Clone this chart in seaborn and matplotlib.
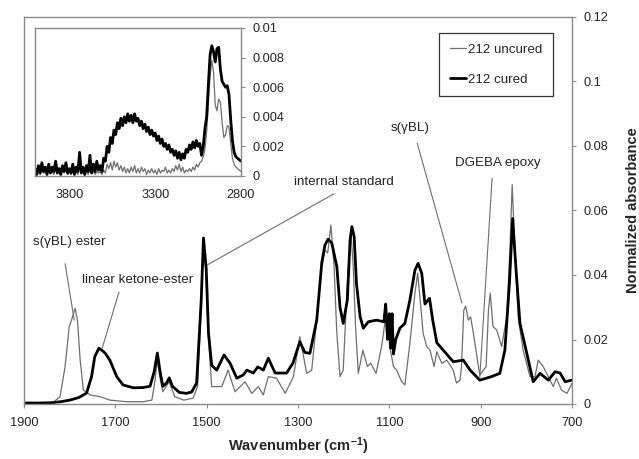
import numpy as np
import pandas as pd
import matplotlib
matplotlib.use("Agg")
import matplotlib.pyplot as plt
import seaborn as sns

# ---------------- data ----------------
cured_wn = [1900, 1870, 1840, 1820, 1800, 1780, 1763, 1752, 1745, 1736, 1728, 1722, 1712,
            1697, 1683, 1660, 1640, 1624, 1615, 1608, 1602, 1596, 1588, 1582, 1575, 1560,
            1545, 1533, 1522, 1512, 1507, 1501, 1496, 1489, 1478, 1462, 1449, 1434, 1420,
            1412, 1398, 1388, 1376, 1365, 1350, 1325, 1311, 1296, 1285, 1274, 1259, 1248,
            1241, 1234, 1226, 1215, 1208, 1201, 1192, 1186, 1182, 1177, 1172, 1164, 1157,
            1146, 1128, 1112, 1108, 1104, 1100, 1097, 1094, 1091, 1086, 1077, 1066, 1055,
            1044, 1037, 1029, 1022, 1012, 1005, 996, 982, 960, 938, 923, 902, 876, 858,
            847, 837, 830, 823, 814, 799, 785, 770, 752, 737, 726, 715, 700]
cured_abs = [0.0003, 0.0003, 0.0004, 0.0007, 0.0012, 0.0020, 0.0034, 0.0085, 0.0147, 0.0173,
             0.0165, 0.0157, 0.0136, 0.0085, 0.0059, 0.0050, 0.0051, 0.0055, 0.0100, 0.0158,
             0.0100, 0.0055, 0.0065, 0.0081, 0.0055, 0.0036, 0.0033, 0.0037, 0.0065, 0.0320,
             0.0515, 0.0420, 0.0220, 0.0120, 0.0105, 0.0152, 0.0127, 0.0080, 0.0090, 0.0105,
             0.0096, 0.0115, 0.0105, 0.0142, 0.0096, 0.0096, 0.0127, 0.0193, 0.0160, 0.0157,
             0.0260, 0.0437, 0.0493, 0.0511, 0.0499, 0.0426, 0.0300, 0.0250, 0.0322, 0.0508,
             0.0550, 0.0519, 0.0374, 0.0271, 0.0235, 0.0255, 0.0260, 0.0255, 0.0310, 0.0200,
             0.0280, 0.0173, 0.0280, 0.0155, 0.0200, 0.0235, 0.0250, 0.0322, 0.0415, 0.0436,
             0.0405, 0.0310, 0.0328, 0.0260, 0.0190, 0.0167, 0.0131, 0.0136, 0.0105, 0.0074,
             0.0085, 0.0095, 0.0167, 0.0374, 0.0575, 0.0426, 0.0250, 0.0157, 0.0069, 0.0095,
             0.0074, 0.0100, 0.0096, 0.0069, 0.0074]

uncured_wn = [1900, 1860, 1836, 1821, 1810, 1801, 1796, 1788, 1783, 1777, 1770, 1755, 1734,
              1712, 1675, 1639, 1620, 1613, 1608, 1602, 1596, 1582, 1570, 1550, 1530, 1520,
              1512, 1507, 1501, 1496, 1489, 1467, 1453, 1438, 1416, 1401, 1387, 1376, 1365,
              1347, 1328, 1310, 1296, 1281, 1270, 1259, 1248, 1241, 1235, 1228, 1221, 1215,
              1208, 1201, 1192, 1184, 1179, 1174, 1168, 1158, 1148, 1141, 1129, 1117, 1106,
              1099, 1091, 1084, 1073, 1066, 1055, 1044, 1038, 1031, 1026, 1018, 1011, 1002,
              996, 985, 974, 960, 953, 945, 942, 937, 933, 927, 922, 916, 902, 888, 883, 879,
              873, 865, 854, 843, 836, 831, 825, 818, 807, 792, 781, 774, 763, 752, 741, 734,
              723, 711, 700]
uncured_abs = [0.0001, 0.0002, 0.0005, 0.0023, 0.0116, 0.0240, 0.0260, 0.0297, 0.0260, 0.0136,
               0.0043, 0.0028, 0.0023, 0.0012, 0.0007, 0.0007, 0.0012, 0.0074, 0.0136, 0.0080,
               0.0038, 0.0069, 0.0023, 0.0012, 0.0018, 0.0054, 0.0300, 0.0500, 0.0400, 0.0200,
               0.0054, 0.0054, 0.0105, 0.0038, 0.0069, 0.0033, 0.0054, 0.0028, 0.0085, 0.0080,
               0.0033, 0.0085, 0.0209, 0.0095, 0.0105, 0.0260, 0.0426, 0.0478, 0.0468, 0.0555,
               0.0426, 0.0220, 0.0085, 0.0105, 0.0375, 0.0530, 0.0426, 0.0240, 0.0095, 0.0167,
               0.0116, 0.0127, 0.0095, 0.0178, 0.0290, 0.0178, 0.0116, 0.0105, 0.0069, 0.0059,
               0.0188, 0.0343, 0.0406, 0.0300, 0.0219, 0.0178, 0.0167, 0.0116, 0.0162, 0.0126,
               0.0136, 0.0105, 0.0065, 0.0074, 0.0116, 0.0290, 0.0304, 0.0260, 0.0270, 0.0220,
               0.0090, 0.0116, 0.0290, 0.0344, 0.0240, 0.0230, 0.0178, 0.0270, 0.0478, 0.0680,
               0.0478, 0.0270, 0.0167, 0.0085, 0.0085, 0.0136, 0.0116, 0.0085, 0.0054, 0.0080,
               0.0043, 0.0033, 0.0064]

inset_wn = list(range(4000, 2799, -10))
inset_cured = [0.0005, 0.0001, 0.0007, 0.0002, 0.0009, 0.0003, 0.0006, 0.0001, 0.0008, 0.0002,
               0.0006, 0.0003, 0.0010, 0.0002, 0.0005, 0.0001, 0.0007, 0.0003, 0.0009, 0.0002,
               0.0005, 0.0002, 0.0008, 0.0001, 0.0006, 0.0003, 0.0016, 0.0002, 0.0006, 0.0001,
               0.0007, 0.0003, 0.0014, 0.0002, 0.0008, 0.0003, 0.0010, 0.0004, 0.0007, 0.0003,
               0.0012, 0.0010, 0.0020, 0.0016, 0.0026, 0.0022, 0.0031, 0.0028, 0.0036, 0.0032,
               0.0039, 0.0034, 0.0040, 0.0036, 0.0042, 0.0037, 0.0041, 0.0036, 0.0042, 0.0037,
               0.0039, 0.0034, 0.0037, 0.0032, 0.0035, 0.0030, 0.0033, 0.0028, 0.0031, 0.0027,
               0.0029, 0.0024, 0.0027, 0.0022, 0.0025, 0.0020, 0.0022, 0.0018, 0.0021, 0.0016,
               0.0018, 0.0014, 0.0017, 0.0012, 0.0016, 0.0011, 0.0015, 0.0012, 0.0018, 0.0016,
               0.0021, 0.0018, 0.0023, 0.0019, 0.0024, 0.0020, 0.0022, 0.0014, 0.0020, 0.0032,
               0.0040, 0.0062, 0.0082, 0.0088, 0.0084, 0.0077, 0.0086, 0.0087, 0.0072, 0.0064,
               0.0062, 0.0060, 0.0061, 0.0055, 0.0038, 0.0024, 0.0016, 0.0013, 0.0012, 0.0011,
               0.0010]
inset_uncured = [0.0003, 0.0001, 0.0004, 0.0001, 0.0005, 0.0002, 0.0003, 0.0001, 0.0004, 0.0002,
                 0.0003, 0.0001, 0.0005, 0.0002, 0.0003, 0.0001, 0.0004, 0.0002, 0.0006, 0.0001,
                 0.0003, 0.0001, 0.0004, 0.0002, 0.0003, 0.0001, 0.0008, 0.0002, 0.0004, 0.0001,
                 0.0004, 0.0001, 0.0006, 0.0002, 0.0004, 0.0001, 0.0003, 0.0002, 0.0003, 0.0001,
                 0.0004, 0.0002, 0.0008, 0.0005, 0.0009, 0.0004, 0.0010, 0.0006, 0.0009, 0.0004,
                 0.0007, 0.0003, 0.0006, 0.0002, 0.0005, 0.0002, 0.0006, 0.0003, 0.0007, 0.0002,
                 0.0005, 0.0002, 0.0006, 0.0003, 0.0005, 0.0001, 0.0004, 0.0002, 0.0005, 0.0002,
                 0.0004, 0.0001, 0.0005, 0.0002, 0.0004, 0.0003, 0.0006, 0.0002, 0.0004, 0.0002,
                 0.0005, 0.0003, 0.0007, 0.0004, 0.0008, 0.0003, 0.0006, 0.0002, 0.0004, 0.0003,
                 0.0005, 0.0003, 0.0006, 0.0004, 0.0008, 0.0006, 0.0009, 0.0010, 0.0013, 0.0018,
                 0.0030, 0.0050, 0.0068, 0.0078, 0.0070, 0.0048, 0.0044, 0.0052, 0.0050, 0.0036,
                 0.0026, 0.0028, 0.0034, 0.0033, 0.0022, 0.0012, 0.0008, 0.0006, 0.0005, 0.0004,
                 0.0003]

main_xticks = [1900, 1700, 1500, 1300, 1100, 900, 700]
main_yticks = [0, 0.02, 0.04, 0.06, 0.08, 0.1, 0.12]
main_ytick_labels = ["0", "0.02", "0.04", "0.06", "0.08", "0.1", "0.12"]
inset_xticks = [3800, 3300, 2800]
inset_yticks = [0, 0.002, 0.004, 0.006, 0.008, 0.01]
inset_ytick_labels = ["0", "0.002", "0.004", "0.006", "0.008", "0.01"]

series_names = ["212 uncured", "212 cured"]

# ---------------- style ----------------
sns.set_style("white")
plt.rcParams["font.family"] = ["Liberation Sans", "DejaVu Sans"]
plt.rcParams["font.size"] = 9
plt.rcParams["lines.solid_joinstyle"] = "round"
plt.rcParams["mathtext.default"] = "regular"

GRAY = "#6e6e6e"
SPINE = "#8a8a8a"
TXT = "#222222"
TICK_FS = 9.2
ANN_FS = 9.6

fig = plt.figure(figsize=(6.39, 4.59), dpi=100)
ax = fig.add_axes([24 / 639, 1 - 404 / 459, (572 - 24) / 639, (404 - 17) / 459])

main_df = pd.concat([
    pd.DataFrame({"wn": uncured_wn, "abs": uncured_abs, "series": series_names[0]}),
    pd.DataFrame({"wn": cured_wn, "abs": cured_abs, "series": series_names[1]}),
])

sns.lineplot(data=main_df[main_df.series == series_names[0]], x="wn", y="abs", sort=False,
             color=GRAY, linewidth=0.9, ax=ax, label=series_names[0])
sns.lineplot(data=main_df[main_df.series == series_names[1]], x="wn", y="abs", sort=False,
             color="black", linewidth=2.0, ax=ax, label=series_names[1])

ax.set_xlim(1900, 700)
ax.set_ylim(0, 0.12)
ax.set_xticks(main_xticks)
ax.set_xticklabels([str(t) for t in main_xticks])
ax.set_yticks(main_yticks)
ax.set_yticklabels(main_ytick_labels)
ax.yaxis.tick_right()
ax.yaxis.set_label_position("right")
ax.tick_params(axis="both", direction="out", length=3, color=SPINE, labelsize=TICK_FS,
               labelcolor=TXT)
ax.tick_params(axis="y", left=False, right=True, pad=5)
ax.tick_params(axis="x", bottom=True, pad=6)
for s in ax.spines.values():
    s.set_color(SPINE)
    s.set_linewidth(1.0)

ax.set_xlabel("Wavenumber (cm$^{-1}$)", fontsize=10.5, fontweight="bold", labelpad=5)
ax.set_ylabel("Normalized absorbance", fontsize=10.5, fontweight="bold", labelpad=13)

leg = ax.legend(loc="upper left", bbox_to_anchor=(439 / 639, 1 - 33 / 459),
                bbox_transform=fig.transFigure, frameon=True, fancybox=False,
                handlelength=1.2, handletextpad=0.2, labelspacing=1.3,
                borderpad=0.8, fontsize=ANN_FS, borderaxespad=0)
leg.get_frame().set_edgecolor("black")
leg.get_frame().set_linewidth(0.9)

# annotations
line_kw = dict(arrowprops=dict(arrowstyle="-", color=GRAY, lw=0.8, shrinkA=0, shrinkB=0))
ax.text(1880, 0.0502, "s(γBL) ester", ha="left", va="center", fontsize=ANN_FS, color=TXT)
ax.annotate("", xy=(1790, 0.026), xytext=(1810, 0.0435), **line_kw)
ax.text(1773, 0.0384, "linear ketone-ester", ha="left", va="center", fontsize=ANN_FS,
        color=TXT)
ax.annotate("", xy=(1729, 0.0172), xytext=(1692, 0.0347), **line_kw)
ax.text(1200, 0.0688, "internal standard", ha="center", va="center", fontsize=ANN_FS,
        color=TXT)
ax.annotate("", xy=(1499, 0.0431), xytext=(1221, 0.0652), **line_kw)
ax.text(1055, 0.0856, "s(γBL)", ha="center", va="center", fontsize=ANN_FS, color=TXT)
ax.annotate("", xy=(941, 0.0313), xytext=(1039, 0.0809), **line_kw)
ax.text(862, 0.0747, "DGEBA epoxy", ha="center", va="center", fontsize=ANN_FS, color=TXT)
ax.annotate("", xy=(902, 0.0080), xytext=(875, 0.0700), **line_kw)

# ---------------- inset ----------------
ins = fig.add_axes([35 / 639, 1 - 176 / 459, (241 - 35) / 639, (176 - 28) / 459])
inset_df = pd.DataFrame({"wn": inset_wn, "cured": inset_cured, "uncured": inset_uncured})
sns.lineplot(data=inset_df, x="wn", y="uncured", sort=False, color=GRAY, linewidth=0.9, ax=ins)
sns.lineplot(data=inset_df, x="wn", y="cured", sort=False, color="black", linewidth=2.0, ax=ins)
ins.set_xlim(4000, 2800)
ins.set_ylim(0, 0.01)
ins.set_xticks(inset_xticks)
ins.set_xticklabels([str(t) for t in inset_xticks])
ins.set_yticks(inset_yticks)
ins.set_yticklabels(inset_ytick_labels)
ins.yaxis.tick_right()
ins.tick_params(axis="both", direction="out", length=3, color=SPINE, labelsize=TICK_FS,
                labelcolor=TXT)
ins.tick_params(axis="y", left=False, right=True, pad=5)
ins.tick_params(axis="x", pad=6)
ins.set_xlabel("")
ins.set_ylabel("")
for s in ins.spines.values():
    s.set_color(SPINE)
    s.set_linewidth(1.0)

fig.savefig("out.png", dpi=100)
